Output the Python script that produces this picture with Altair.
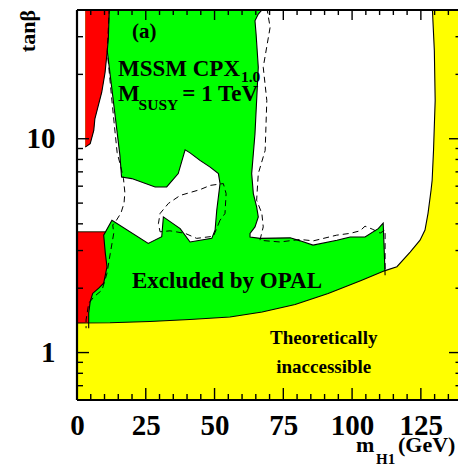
import altair as alt
import pandas as pd

# ---------------- data (m_H1 in GeV, tan beta) ----------------
X_DOMAIN = [0, 138.5]
Y_DOMAIN = [0.6, 40]

green_m = [-5, -5, 145, 145]
green_tb = [0.5, 50, 50, 0.5]

# big white (allowed) region on the right, observed boundary
w1_edge_m = [67.6, 67.2, 65.9, 64.7, 65.1, 65.9, 65.3, 64.7, 64.1, 63.5, 64.1, 65.3,
             65.9, 64.7, 62.9, 62.9, 66.5, 77.5, 81.1, 85.8, 94.5, 99.3, 104.7, 109.5,
             111.3, 111.6, 112.0]
w1_edge_tb = [45, 40, 38.3, 35.6, 30.9, 21.6, 15.1, 10.55, 8.51, 6.87, 5.54, 4.80,
              4.31, 3.87, 3.61, 3.47, 3.42, 3.44, 3.33, 3.18, 3.35, 3.47, 3.47, 3.80,
              4.03, 3.2, 2.3]
w1_close_m = [140, 140]
w1_close_tb = [2.3, 45]

# white (allowed) region on the left / middle
w2_m = [-1, 3.0, 3.0, 4.8, 6.1, 6.5, 9.0, 10.2, 11.0, 15.6, 16.2, 19.9, 28.4, 32.6,
        36.8, 39.3, 41.1, 44.7, 48.4, 51.4, 52.0, 50.8, 50.2, 49.0, 41.1, 37.5, 31.4,
        30.8, 25.9, 12.7, 10.3, -1]
w2_tb = [41, 41, 9.14, 9.48, 10.93, 12.4, 16.5, 20.4, 25.8, 8.36, 6.62, 6.51, 5.95, 5.95,
         6.87, 8.88, 8.59, 7.92, 7.37, 6.87, 6.17, 4.63, 3.74, 3.42, 3.29, 3.80, 4.31,
         3.48, 3.24, 4.16, 3.67, 3.67]

# red regions
r1_m = [3.0, 11.75, 11.4, 11.0, 10.2, 9.0, 6.5, 6.1, 4.8, 3.0]
r1_tb = [41, 41, 29.4, 25.8, 20.4, 16.5, 12.4, 10.93, 9.48, 9.14]
r2_m = [-1, 10.3, 9.7, 10.3, 10.9, 9.7, 7.9, 5.7, 4.8, 4.25, 4.25, -1]
r2_tb = [3.67, 3.67, 3.54, 2.91, 2.52, 2.11, 2.00, 1.89, 1.73, 1.53, 1.2, 1.2]

# observed boundary through the left white region and red edge
l2_m = [11.0, 15.6, 16.2, 19.9, 28.4, 32.6, 36.8, 39.3, 41.1, 44.7, 48.4, 51.4, 52.0,
        50.8, 50.2, 49.0, 41.1, 37.5, 31.4, 30.8, 25.9, 12.7, 9.7, 10.3, 10.9, 9.7, 7.9,
        5.7, 4.8, 4.25, 4.25]
l2_tb = [25.8, 8.36, 6.62, 6.51, 5.95, 5.95, 6.87, 8.88, 8.59, 7.92, 7.37, 6.87, 6.17,
         4.63, 3.74, 3.42, 3.29, 3.80, 4.31, 3.48, 3.24, 4.16, 3.54, 2.91, 2.52, 2.11,
         2.00, 1.89, 1.73, 1.53, 1.3]
rtop_m = [-1, 10.3]
rtop_tb = [3.67, 3.67]

# theoretically inaccessible boundary
yel_m = [-1, 0, 12, 26.5, 41, 55.6, 67.3, 79.3, 91.3, 103.3, 112, 116.3, 121.1, 124.7,
         126.5, 127.6, 128.7, 129.1, 129.6, 130.2, 129.9, 129.2, 129.0]
yel_tb = [1.375, 1.375, 1.379, 1.398, 1.428, 1.467, 1.548, 1.678, 1.888, 2.172, 2.417,
          2.52, 2.95, 3.356, 3.74, 4.48, 5.74, 6.39, 8.81, 15.1, 25.8, 40, 41]
yel_close_m = [145, 145, -1]
yel_close_tb = [41, 0.5, 0.5]

# expected (dashed) boundaries
d1_m = [11.75, 11.0, 12.5, 13.6, 14.6, 15.8, 16.9, 17.4, 17.1, 16.0, 14.3, 13.0, 13.35,
        12.1, 10.9, 9.1, 6.1, 4.25, 3.3, 3.3]
d1_tb = [41, 25.8, 16.0, 11.5, 8.6, 7.5, 6.5, 5.6, 5.0, 4.5, 4.15, 3.95, 3.61, 2.91,
         2.35, 1.96, 1.82, 1.70, 1.42, 1.3]
d2_m = [52.0, 49.6, 43.5, 39.3, 33.8, 30.2, 29.6, 30.2, 33.2, 37.5, 44.7, 48.4, 53.2,
        54.2, 53.8, 52.0]
d2_tb = [4.16, 3.50, 3.42, 3.61, 3.71, 3.67, 4.01, 4.47, 4.98, 5.43, 5.78, 6.05, 6.17,
         5.54, 4.47, 4.16]
d3_m = [69.0, 70.2, 67.7, 69.0, 68.4, 65.9, 65.3, 67.2, 67.7, 66.5, 73.8, 81.1, 85.9,
        94.4, 99.3, 102.9, 104.7, 107.3, 110.2, 112.0, 112.0]
d3_tb = [41, 33.2, 21.6, 15.1, 8.82, 6.87, 5.16, 4.47, 3.87, 3.35, 3.29, 3.38, 3.33,
         3.54, 3.61, 3.71, 3.90, 3.78, 3.62, 3.74, 2.43]

# ticks
x_major = [0, 25, 50, 75, 100, 125]
x_minor = [v for v in range(0, 140, 5) if v % 25 != 0]
y_major = [1, 10]
y_minor = [0.6, 0.7, 0.8, 0.9, 2, 3, 4, 5, 6, 7, 8, 9, 20, 30, 40]

# annotations
ann_text = ["(a)", "MSSM CPX", "M", "= 1 TeV", "Excluded by OPAL"]
ann_m = [20.0, 14.9, 14.9, 38.3, 20.0]
ann_tb = [29.7, 19.7, 15.09, 15.09, 2.0]
ann_size = [21, 23, 23, 23, 23]
sub_text = ["1.0", "SUSY"]
sub_m = [59.6, 22.4]
sub_tb = [18.5, 13.7]
theo_text = ["Theoretically", "inaccessible"]
theo_m = [89.7, 89.7]
theo_tb = [1.098, 0.804]

# ---------------- chart ----------------
FONT = "Liberation Serif"
W, H = 381, 390
xs = alt.Scale(domain=X_DOMAIN, nice=False, zero=False)
ys = alt.Scale(type="log", domain=Y_DOMAIN, nice=False)
xaxis = alt.Axis(values=x_major, title=None, grid=False, domain=False, ticks=False, tickSize=0,
                 labelFont=FONT, labelFontSize=29, labelFontWeight="bold", labelColor="black",
                 labelBaseline="alphabetic", labelPadding=34, labelFlush=False)
yaxis = alt.Axis(values=y_major, title=None, grid=False, domain=False, ticks=False, tickSize=0,
                 labelFont=FONT, labelFontSize=29, labelFontWeight="bold", labelColor="black",
                 labelPadding=22, labelBaseline="middle", format="~g")


def path(ms, tbs, fill=None, stroke=None, width=1.0, dash=None):
    df = pd.DataFrame({"m": ms, "tb": tbs, "i": list(range(len(ms)))})
    kw = dict(clip=True, interpolate="linear")
    if fill is not None:
        kw["fill"] = fill
    if stroke is not None:
        kw["stroke"] = stroke
        kw["strokeWidth"] = width
    else:
        kw["stroke"] = "black"
        kw["strokeOpacity"] = 0
    if dash is not None:
        kw["strokeDash"] = dash
    return alt.Chart(df).mark_line(**kw).encode(
        x=alt.X("m:Q", scale=xs, axis=xaxis),
        y=alt.Y("tb:Q", scale=ys, axis=yaxis),
        order=alt.Order("i:Q"),
    )


GREEN, RED, YELLOW = "#00ff00", "#ff0000", "#ffff00"
layers = [
    path(green_m, green_tb, fill=GREEN),
    path(w1_edge_m + w1_close_m, w1_edge_tb + w1_close_tb, fill="white"),
    path(w2_m, w2_tb, fill="white"),
    path(r1_m, r1_tb, fill=RED),
    path(r2_m, r2_tb, fill=RED),
    path(yel_m + yel_close_m, yel_tb + yel_close_tb, fill=YELLOW),
    path(r1_m[1:], r1_tb[1:], stroke="black", width=1.1),
    path(l2_m, l2_tb, stroke="black", width=1.1),
    path(rtop_m, rtop_tb, stroke="black", width=0.8),
    path(w1_edge_m, w1_edge_tb, stroke="black", width=1.1),
    path(yel_m, yel_tb, stroke="black", width=1.1),
    path(d1_m, d1_tb, stroke="black", width=1.0, dash=[6, 4]),
    path(d2_m, d2_tb, stroke="black", width=1.0, dash=[6, 4]),
    path(d3_m, d3_tb, stroke="black", width=1.0, dash=[6, 4]),
]

ann = pd.DataFrame({"m": ann_m, "tb": ann_tb, "t": ann_text, "s": ann_size})
layers.append(alt.Chart(ann).mark_text(font=FONT, fontWeight="bold", align="left",
                                       baseline="alphabetic", color="black").encode(
    x=alt.X("m:Q", scale=xs), y=alt.Y("tb:Q", scale=ys), text="t:N",
    size=alt.Size("s:Q", scale=None, legend=None)))
sub = pd.DataFrame({"m": sub_m, "tb": sub_tb, "t": sub_text})
layers.append(alt.Chart(sub).mark_text(font=FONT, fontWeight="bold", align="left",
                                       baseline="alphabetic", fontSize=15.5, color="black").encode(
    x=alt.X("m:Q", scale=xs), y=alt.Y("tb:Q", scale=ys), text="t:N"))
theo = pd.DataFrame({"m": theo_m, "tb": theo_tb, "t": theo_text})
layers.append(alt.Chart(theo).mark_text(font=FONT, fontWeight="bold", align="center",
                                        baseline="alphabetic", fontSize=19, color="black").encode(
    x=alt.X("m:Q", scale=xs), y=alt.Y("tb:Q", scale=ys), text="t:N"))

# ticks (inward, on all four sides)
xmaj = pd.DataFrame({"m": x_major})
xmin = pd.DataFrame({"m": x_minor})
ymaj = pd.DataFrame({"tb": y_major})
ymin = pd.DataFrame({"tb": y_minor})
tk = dict(color="black", strokeWidth=1.4)
for df, ln_b, ln_t in [(xmaj, 12, 10), (xmin, 6, 5)]:
    layers.append(alt.Chart(df).mark_rule(**tk).encode(
        x=alt.X("m:Q", scale=xs), y=alt.value(H), y2=alt.value(H - ln_b)))
    layers.append(alt.Chart(df).mark_rule(**tk).encode(
        x=alt.X("m:Q", scale=xs), y=alt.value(0), y2=alt.value(ln_t)))
for df, ln_l, ln_r in [(ymaj, 12, 9), (ymin, 6, 2.5)]:
    layers.append(alt.Chart(df).mark_rule(**tk).encode(
        y=alt.Y("tb:Q", scale=ys), x=alt.value(0), x2=alt.value(ln_l)))
    layers.append(alt.Chart(df).mark_rule(**tk).encode(
        y=alt.Y("tb:Q", scale=ys), x=alt.value(W), x2=alt.value(W - ln_r)))

frame_df = pd.DataFrame({"k": [0]})
fr = dict(color="black", strokeWidth=2.2)
layers.append(alt.Chart(frame_df).mark_rule(**fr).encode(x=alt.value(0), y=alt.value(0), y2=alt.value(H)))
layers.append(alt.Chart(frame_df).mark_rule(**fr).encode(x=alt.value(0), x2=alt.value(W), y=alt.value(0)))
layers.append(alt.Chart(frame_df).mark_rule(**fr).encode(x=alt.value(0), x2=alt.value(W), y=alt.value(H)))

# axis titles
layers.append(alt.Chart(frame_df).mark_text(text="m", font=FONT, fontWeight="bold", fontSize=22,
                                            align="left", baseline="alphabetic").encode(
    x=alt.value(279), y=alt.value(442)))
layers.append(alt.Chart(frame_df).mark_text(text="H1", font=FONT, fontWeight="bold", fontSize=15,
                                            align="left", baseline="alphabetic").encode(
    x=alt.value(299), y=alt.value(453.5)))
layers.append(alt.Chart(frame_df).mark_text(text="(GeV)", font=FONT, fontWeight="bold", fontSize=22,
                                            align="left", baseline="alphabetic").encode(
    x=alt.value(321), y=alt.value(442)))
layers.append(alt.Chart(frame_df).mark_text(text="tanβ", font=FONT, fontWeight="bold", fontSize=22,
                                            align="right", baseline="alphabetic", angle=270).encode(
    x=alt.value(-42), y=alt.value(0)))

chart = alt.layer(*layers).properties(
    width=W, height=H,
    autosize=alt.AutoSizeParams(type="none"),
    padding={"left": 77, "top": 10, "right": 0, "bottom": 67},
    background="white",
).configure_view(stroke=None)

chart.save("out.html", embed_options={"renderer": "svg", "actions": False})
